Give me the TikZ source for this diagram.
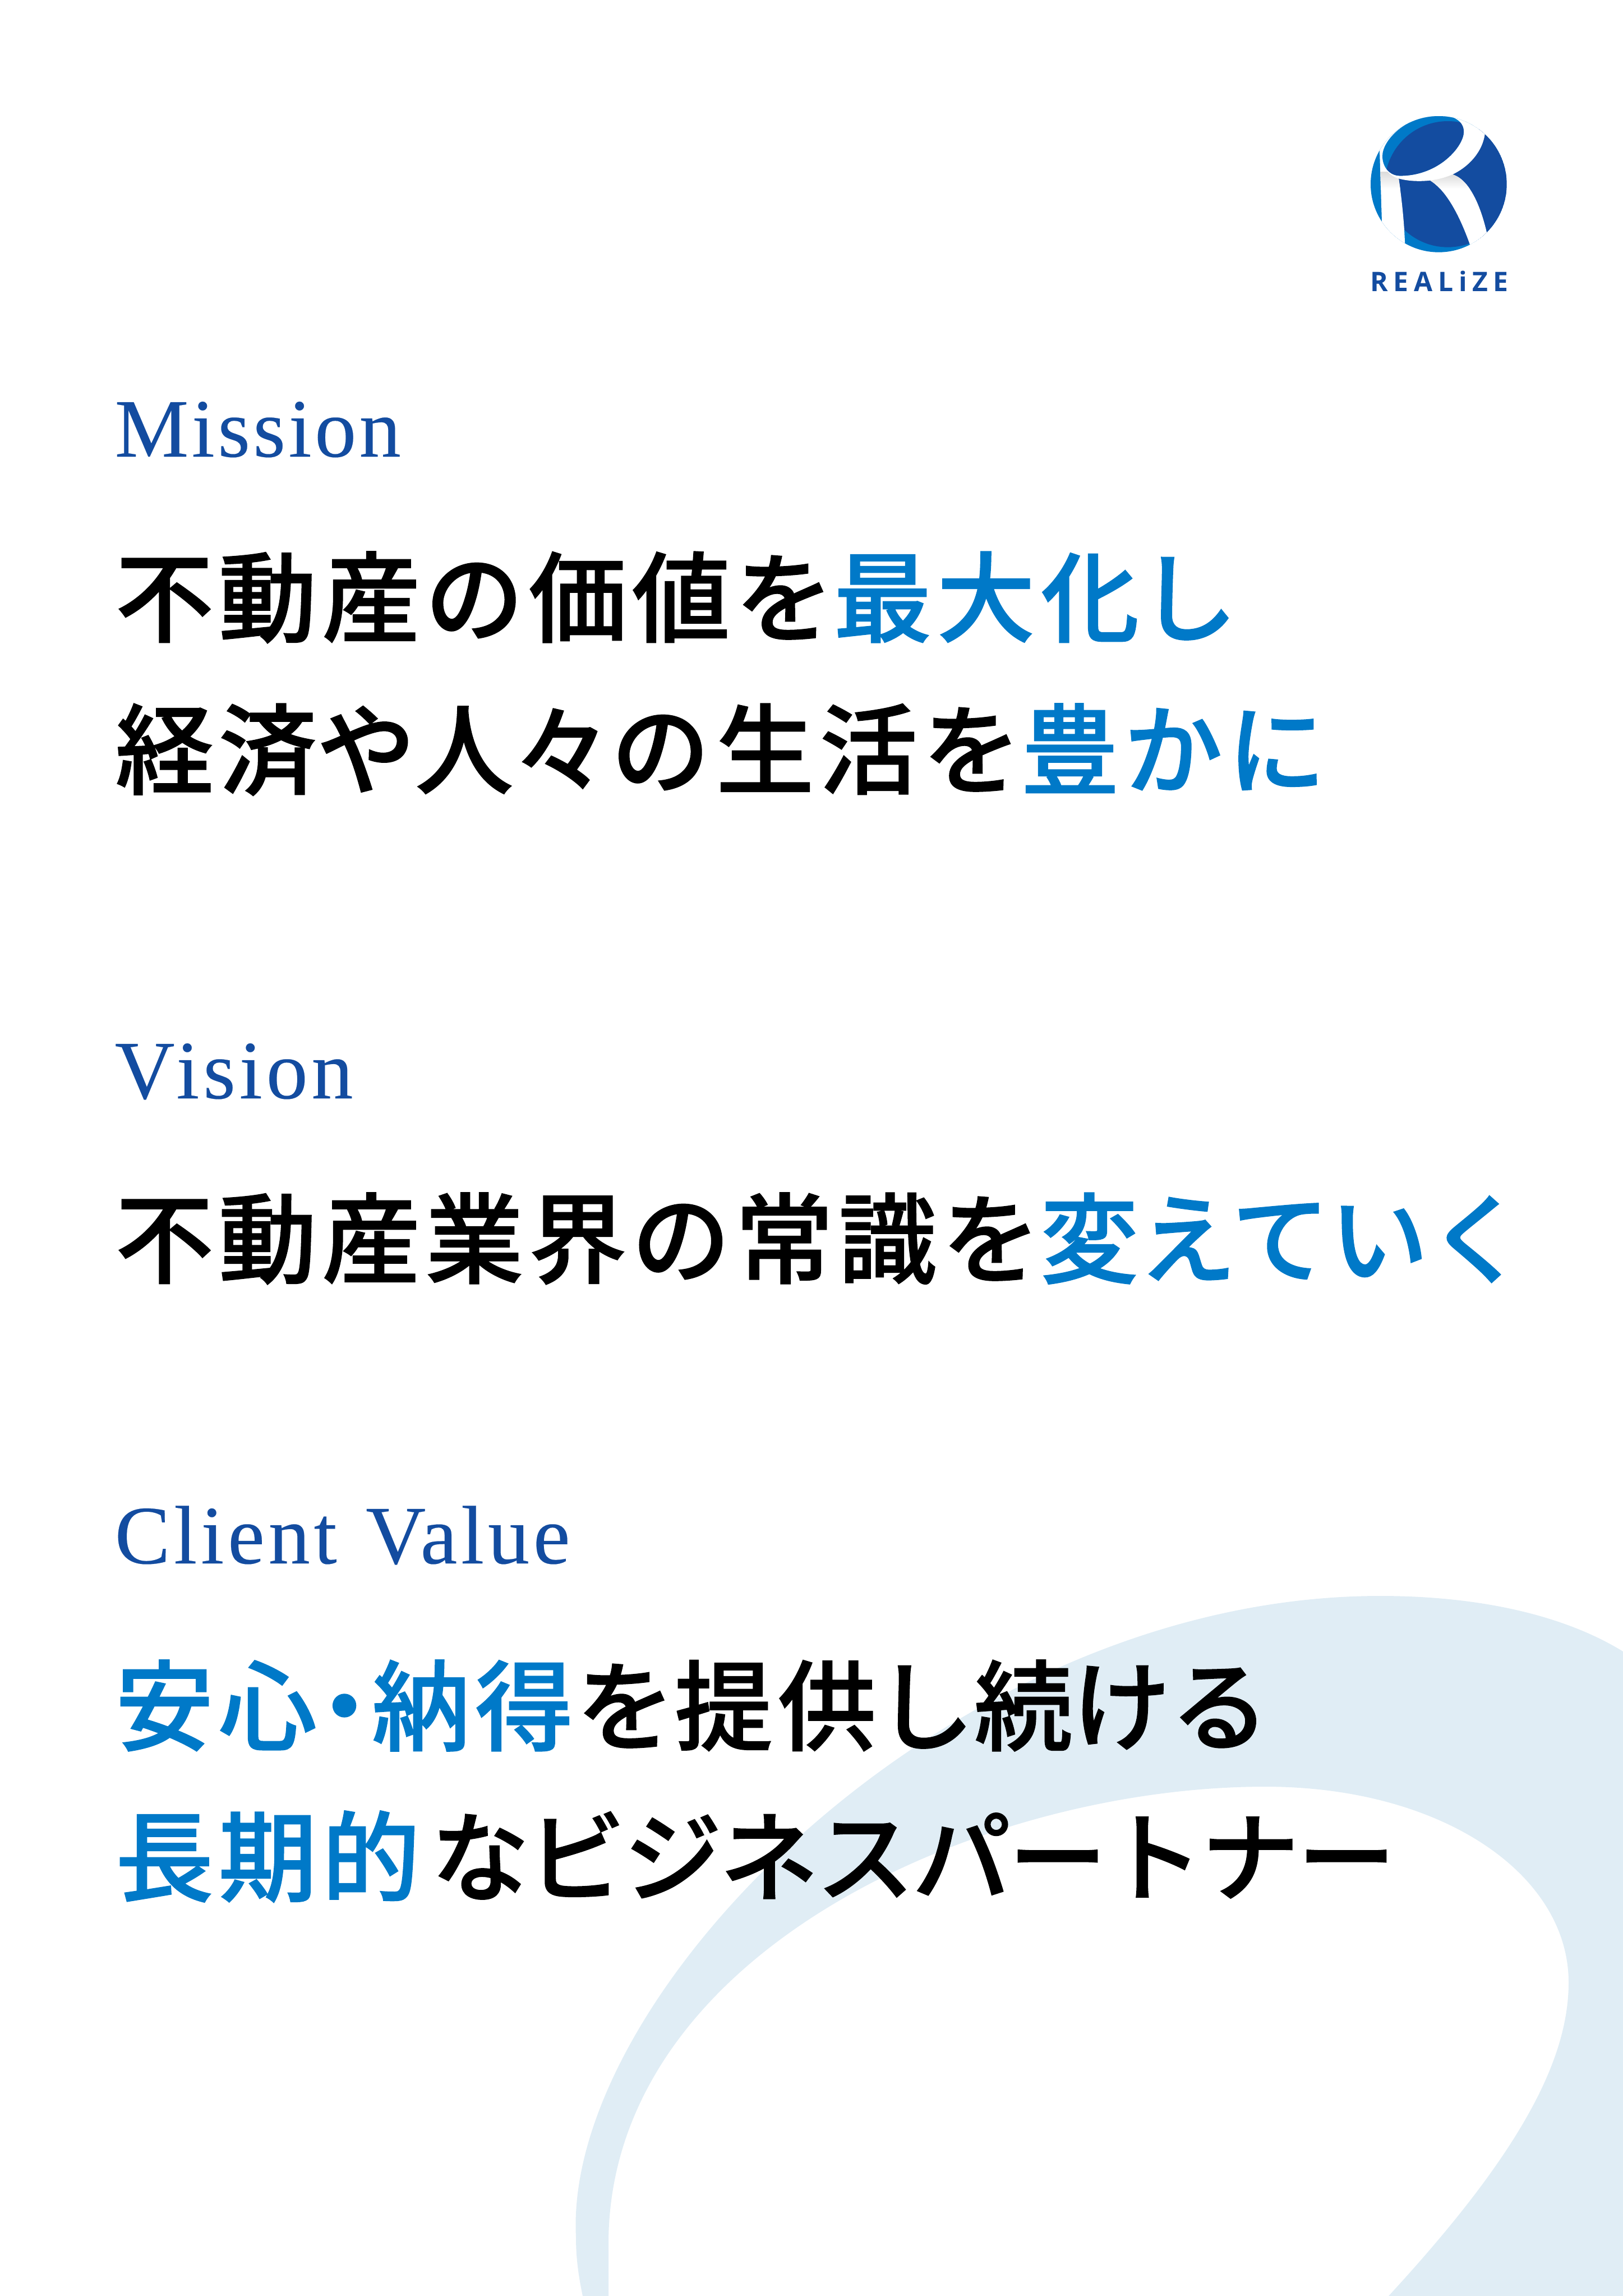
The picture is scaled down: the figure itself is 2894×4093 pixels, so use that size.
\documentclass[tikz,border=0pt]{standalone}
\usepackage{fontspec}
\usepackage{xcolor}
\newfontfamily\cjkfont[LetterSpace=5.2,FakeBold=1.0]{Noto Sans CJK JP Medium}
\newfontfamily\kanafont[LetterSpace=0,FakeBold=1.0]{Noto Sans CJK JP Medium}
\newfontfamily\katafont[LetterSpace=-2,FakeBold=1.0]{Noto Sans CJK JP Medium}
\newfontfamily\latinfont[LetterSpace=4.6,FakeBold=0.15]{Liberation Serif}
\newfontfamily\logofont[LetterSpace=20]{Open Sans}
\definecolor{realizenavy}{RGB}{19, 76, 160}
\definecolor{realizeblue}{RGB}{0, 121, 200}
\definecolor{realizepale}{RGB}{224, 237, 245}
\tikzstyle{heading} = [anchor=base west,inner sep=0,realizenavy,font=\latinfont\fontsize{42.1}{50}\selectfont]
\tikzstyle{slogan} = [anchor=base west,inner sep=0,black,font=\cjkfont\fontsize{49.8}{60}\selectfont]
\newcommand{\hilite}[1]{\textcolor{realizeblue}{#1}}
\newcommand{\bowlpath}{(345,385) .. controls (345,300) and (470,170) .. (645,165) .. controls (720,165) and (780,195) .. (780,255) .. controls (780,330) and (650,490) .. (440,490) .. controls (385,490) and (345,445) .. (345,385) -- cycle}
\newcommand{\leftleg}{(330,355) -- (342,735) -- (345,900) -- (468,900) -- (462,780) .. controls (455,680) and (445,590) .. (432,505) -- cycle}
\newcommand{\rightleg}{(600,515) .. controls (690,570) and (760,710) .. (812,855) -- (830,900) -- (930,860) -- (903,793) .. controls (870,650) and (810,510) .. (720,483) -- cycle}

\begin{document}
\begin{tikzpicture}[x=0.01cm,y=-0.01cm]
\useasboundingbox (0,0) rectangle (2894,4093);

% Swoosh behind the text
\fill[realizepale] (1039,4093) .. controls (1030,4050) and (1027,4020) .. (1027,3987)
  .. controls (1005,3550) and (1700,2845) .. (2461,2845)
  .. controls (2640,2845) and (2790,2880) .. (2894,2944)
  -- (2894,4093) -- (2476,4093)
  .. controls (2700,3850) and (2797,3680) .. (2797,3534)
  .. controls (2797,3340) and (2570,3185) .. (2256,3185)
  .. controls (1750,3185) and (1085,3480) .. (1085,4000)
  -- (1085,4093) -- cycle;

% Logo mark
\begin{scope}[shift={(2350,150)},scale=1/3]
\clip (646,535) circle[radius=364];
\fill[realizeblue] (646,535) circle[radius=364];
\fill[realizenavy] (695,535) circle[radius=337];
\fill[white] \leftleg;
\fill[white] \rightleg;
\begin{scope}
\clip \leftleg;
\shade[top color=black!14,bottom color=white] (320,470) rectangle (450,560);
\end{scope}
\begin{scope}
\clip \rightleg;
\shade[top color=black!14,bottom color=white] (590,480) rectangle (900,560);
\end{scope}
\fill[white] (330,355) -- (300,100) -- (950,100) -- (893,268) .. controls (880,360) and (810,440) .. (720,483) .. controls (680,500) and (640,510) .. (600,515) .. controls (540,522) and (480,518) .. (432,505) .. controls (380,490) and (335,440) .. (330,355) -- cycle;
\begin{scope}
\clip \bowlpath;
\fill[realizeblue] (300,120) rectangle (900,520);
\fill[realizenavy] (695,535) circle[radius=337];
\end{scope}
\end{scope}
\node[anchor=base west,inner sep=0,realizenavy,font=\logofont\bfseries\fontsize{13.66}{16}\selectfont] (logotext) at (2443,519) {REALiZE};

% Mission
\node[heading] (mission) at (204,814) {\addfontfeature{LetterSpace=3.7}Mission};
\node[slogan] (missiona) at (205,1131) {不動産の価値を\hilite{最大{\kanafont\kern3pt 化し}}};
\node[slogan] (missionb) at (205,1402) {経済{\kanafont や人々の}\kern3.2pt 生活を\hilite{豊かに}};

% Vision
\node[heading] (vision) at (204,1958) {V\kern.8pt ision};
\node[slogan] (visiona) at (205,2274) {不動産業界の常識を\hilite{変{\kanafont えていく}}};

% Client Value
\node[heading] (clientvalue) at (204,2787) {Client\kern2.2pt\ Value};
\node[slogan] (valuea) at (205,3107) {\hilite{安心\kern-.22em・\kern-.22em納得}\kanafont\kern1.5pt を{\cjkfont 提供}し{\cjkfont 続}ける};
\node[slogan] (valueb) at (205,3376) {\hilite{長期的}\katafont\kern5.5pt なビジネスパートナー};
\end{tikzpicture}
\end{document}
